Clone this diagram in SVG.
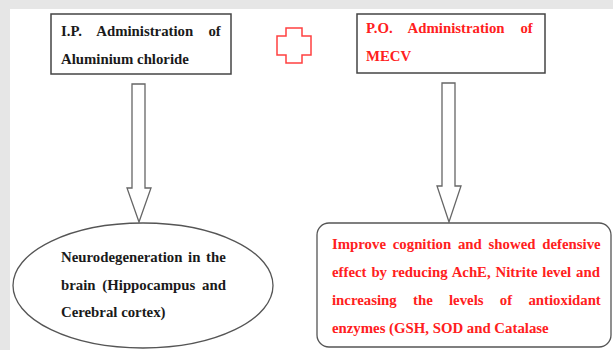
<svg xmlns="http://www.w3.org/2000/svg" width="613" height="350" viewBox="0 0 613 350">
<style>
.k{fill:#1a1a1a}
.r{fill:#ff2020}
.box{fill:#fff;stroke:#444;stroke-width:1.5}
.arr{fill:#fff;stroke:#666;stroke-width:1.3}
</style>
<rect x="0" y="0" width="613" height="350" fill="#fff"/>
<rect x="0" y="0" width="613" height="9" fill="#e6e6e6"/>
<rect x="0" y="0" width="10" height="350" fill="#e6e6e6"/>
<g id="connectors">
<polygon class="arr" points="132,84 145,84 145,188 151,188 139,222 127,188 132,188"/>
<polygon class="arr" points="442,83 455,83 455,186 461,186 449,222 437,186 442,186"/>
</g>
<g id="plus">
<polygon points="286,28 302,28 302,36 311,36 311,55 302,55 302,63 286,63 286,55 277,55 277,36 286,36" fill="#fff" stroke="#ff4040" stroke-width="1.5"/>
</g>
<g font-family="Liberation Serif, serif" font-weight="bold" font-size="14.8">
<g id="node-ip">
<rect class="box" x="51" y="14" width="180" height="60"/>
<text class="k" font-family="Liberation Serif, serif" x="61" y="36" style="word-spacing:11.5px">I.P. Administration of</text>
<text class="k" font-family="Liberation Serif, serif" x="61" y="64">Aluminium chloride</text>
</g>
<g id="node-po">
<rect class="box" x="357" y="14" width="188" height="59"/>
<text class="r" font-family="Liberation Serif, serif" x="366" y="33" style="word-spacing:12.1px">P.O. Administration of</text>
<text class="r" font-family="Liberation Serif, serif" x="366" y="61">MECV</text>
</g>
<g id="node-neuro">
<ellipse cx="143" cy="285.5" rx="130" ry="62.5" fill="#fff" stroke="#555" stroke-width="1.3"/>
<text class="k" font-family="Liberation Serif, serif" x="61" y="262" style="word-spacing:2px">Neurodegeneration in the</text>
<text class="k" font-family="Liberation Serif, serif" x="61" y="290" style="word-spacing:3.1px">brain (Hippocampus and</text>
<text class="k" font-family="Liberation Serif, serif" x="61" y="317">Cerebral cortex)</text>
</g>
<g id="node-improve">
<rect x="317" y="223" width="294" height="124" rx="12" fill="#fff" stroke="#555" stroke-width="1.3"/>
<text class="r" font-family="Liberation Serif, serif" x="332" y="249" style="word-spacing:3.1px">Improve cognition and showed defensive</text>
<text class="r" font-family="Liberation Serif, serif" x="332" y="277" style="word-spacing:1.2px">effect by reducing AchE, Nitrite level and</text>
<text class="r" font-family="Liberation Serif, serif" x="332" y="305" style="word-spacing:12.6px">increasing the levels of antioxidant</text>
<text class="r" font-family="Liberation Serif, serif" x="332" y="333">enzymes (GSH, SOD and Catalase</text>
</g>
</g>
</svg>
